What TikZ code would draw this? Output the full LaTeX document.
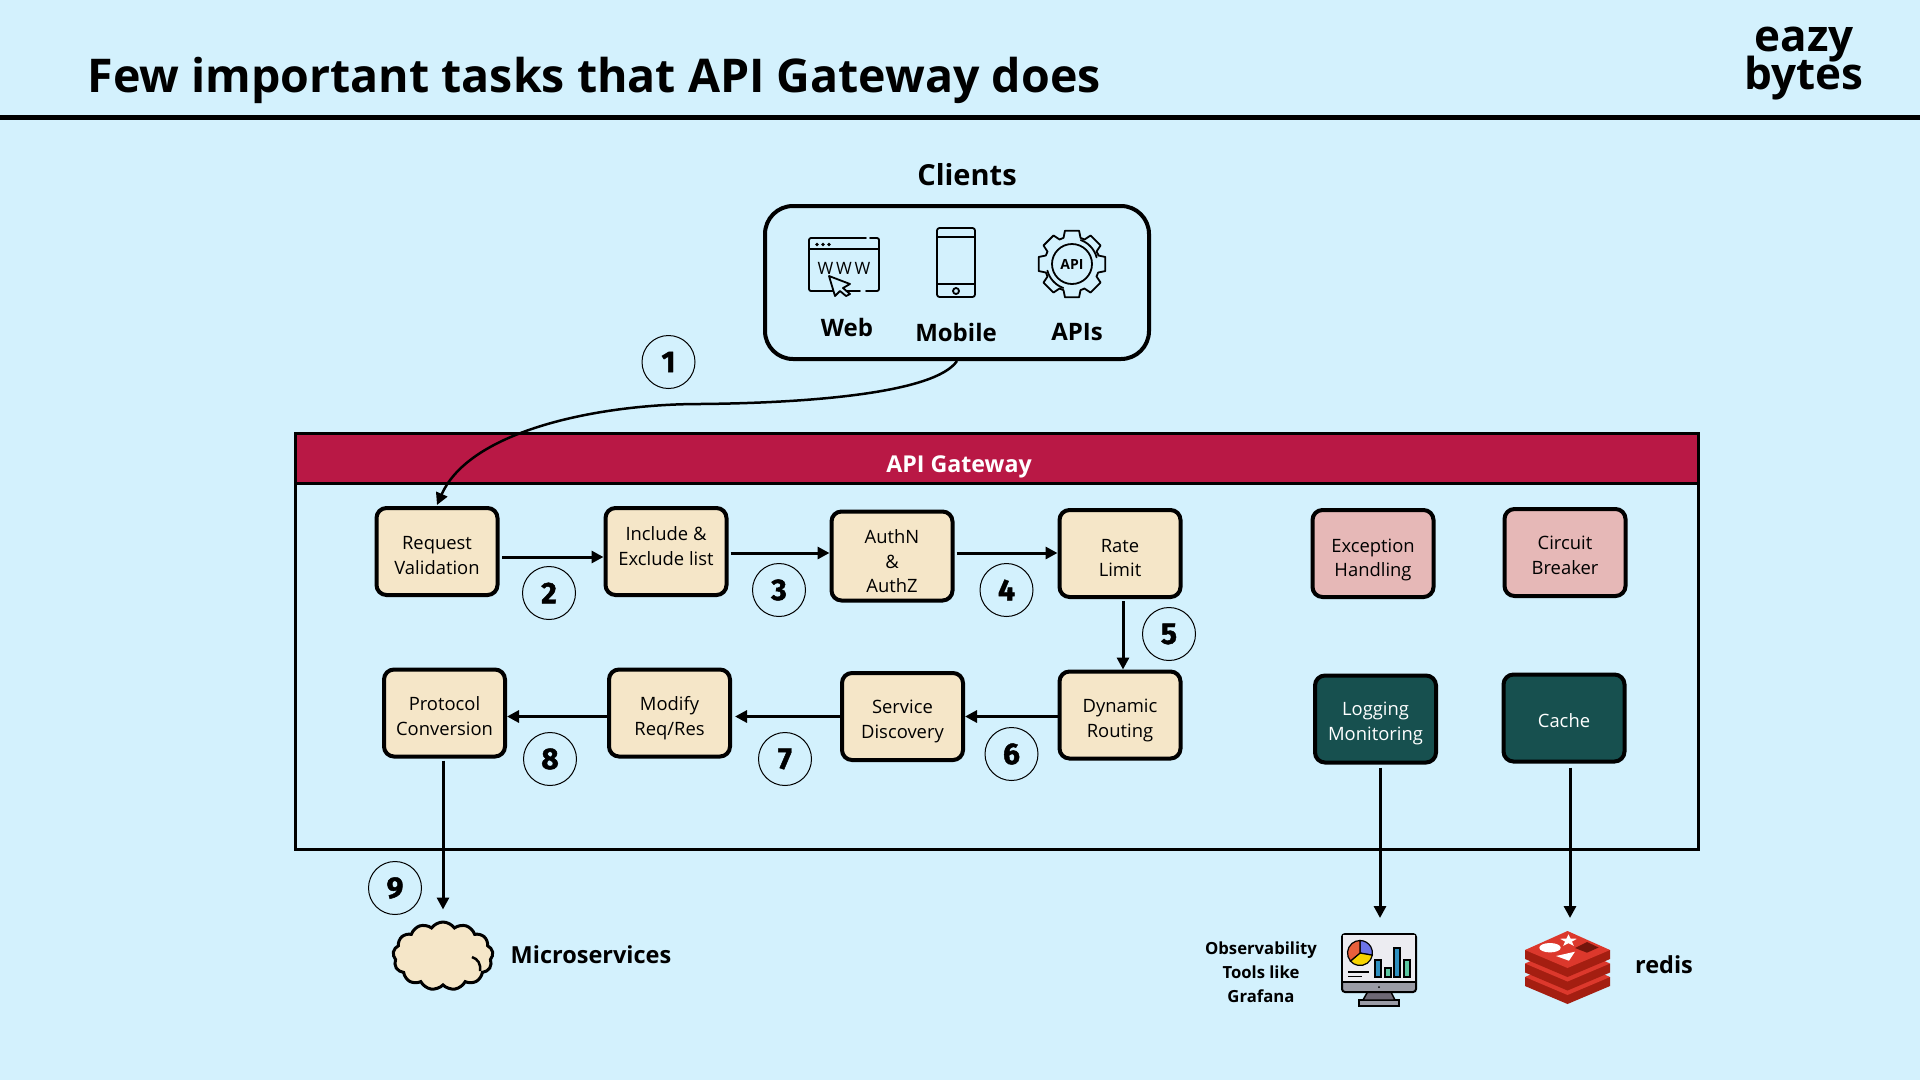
\documentclass[tikz,border=0pt]{standalone}
\usepackage{fontspec}
\setmainfont{Open Sans}
\newfontfamily\stepfont[BoldFeatures={FakeBold=1.5}]{Fira Sans}
\usetikzlibrary{arrows.meta,shapes.symbols}
\definecolor{pagebg}{HTML}{D3F1FD}
\definecolor{boxcream}{HTML}{F5E6C8}
\definecolor{boxpink}{HTML}{E6B8B7}
\definecolor{boxteal}{HTML}{17504F}
\definecolor{bandred}{HTML}{B91845}
\definecolor{redislight}{HTML}{DC382C}
\definecolor{redisdark}{HTML}{A41E11}
\definecolor{screengrey}{HTML}{ECECF1}
\definecolor{monitorgrey}{HTML}{9A9BA5}
\definecolor{standgrey}{HTML}{6D6875}
\definecolor{piered}{HTML}{E8603C}
\definecolor{pieblue}{HTML}{6C74E8}
\definecolor{pieyellow}{HTML}{F7D400}
\definecolor{barblue}{HTML}{2E8FC0}
\definecolor{bargreen}{HTML}{5CC7A2}
\newcommand{\tightlines}{\lineskiplimit=-100pt\relax}
\newcommand{\lift}[1]{\rule{0pt}{#1pt}}

\begin{document}
\begin{tikzpicture}[x=1pt,y=-1pt,
  textdepth/.code={\def\textdepthval{#1}},
  taskbox/.style = {shape=rectangle, rounded corners=10pt, draw,
    line width=4pt, minimum width=121pt, minimum height=87pt, inner sep=0pt,
    align=center, font=\fontsize{18.4}{24.5}\selectfont, textdepth=8,
    execute at end node={\rule[-\textdepthval pt]{0pt}{0pt}}},
  cream/.style = {taskbox, fill=boxcream},
  pink/.style = {taskbox, fill=boxpink},
  teal/.style = {taskbox, fill=boxteal, text=white},
  stepno/.style = {shape=circle, draw, line width=1pt, minimum size=53pt,
    inner sep=0pt, font=\stepfont\bfseries\fontsize{30}{30}\selectfont},
  heading/.style = {font=\bfseries\fontsize{23.5}{30}\selectfont, align=center},
  iconlabel/.style = {font=\bfseries\fontsize{24}{30}\selectfont},
  flow/.style = {line width=3pt, -{Triangle[length=12pt,width=12pt]}},
  icon/.style = {line width=1.8pt, line cap=round, line join=round}]
  \useasboundingbox (0,0) rectangle (1920,1080);
  \fill[pagebg] (0,0) rectangle (1920,1080);

  \node[anchor=base west, font=\bfseries\fontsize{46.5}{50}\selectfont] (title) at (84,92)
    {Few important tasks that API Gateway does};
  \node[font=\bfseries\fontsize{44}{38}\selectfont\tightlines, align=center] (logo) at (1804,63.5) {eazy\\bytes};
  \draw[line width=5pt] (0,117.5) -- (1920,117.5);

  % clients
  \node[heading, font=\bfseries\fontsize{29}{30}\selectfont] (clientstitle) at (967,175) {Clients};
  \node[draw, line width=4pt, rounded corners=28pt, minimum width=384pt, minimum height=153pt] (clients) at (957,282.5) {};
  \node[iconlabel] (web) at (847,327) {Web};
  \node[iconlabel] (mobile) at (956,332) {Mobile};
  \node[iconlabel] (apis) at (1077,332) {APIs};

  % web icon
  \draw[icon, rounded corners=2pt] (866,238) -- (809,238) -- (809,291) -- (860,291);
  \draw[icon, rounded corners=2pt] (870,238) -- (879,238) -- (879,291) -- (866,291);
  \draw[icon] (809,249) -- (879,249);
  \fill (817,244.5) circle[radius=1.8pt] (823,244.5) circle[radius=1.8pt] (829,244.5) circle[radius=1.8pt];
  \node[font=\fontsize{17}{17}\selectfont, inner sep=0pt] (www) at (844,268) {W\,W\,W};
  \draw[icon, fill=pagebg] (829,276) -- (850,284) -- (843,288) -- (850,294) -- (846,296) -- (840,291) -- (835,296) -- cycle;

  % mobile icon
  \draw[icon, rounded corners=2.5pt] (937,228) rectangle (975,297);
  \draw[icon] (937,237) -- (975,237) (937,284) -- (975,284);
  \draw[icon] (956,291) circle[radius=3pt];

  % api icon
  \begin{scope}[shift={(1072,264)}]
    \draw[icon] (-18:28) \foreach \a in {0,45,...,315} { -- (\a-18:27.5) -- (\a-12:34) -- (\a+12:34) -- (\a+18:27.5) } -- cycle;
    \draw[icon] (0,0) circle[radius=20pt];
    \draw[icon] (-70:25.5) arc[start angle=-70,end angle=-15,radius=25.5];
    \draw[icon] (110:25.5) arc[start angle=110,end angle=165,radius=25.5];
    \node[font=\bfseries\fontsize{14}{14}\selectfont, inner sep=0pt] (apitext) at (0,0) {API};
  \end{scope}

  % gateway
  \fill[bandred] (295,433) rectangle (1698,483);
  \draw[line width=3pt] (295,433) rectangle (1698,849.5);
  \draw[line width=3pt] (295,483) -- (1698,483);
  \node[font=\bfseries\fontsize{23.2}{30}\selectfont, text=white] (gateway) at (959,467) {API Gateway};

  \node[cream] (reqval) at (437,551.5) {\lift{29}Request\\Validation};
  \node[cream, textdepth=11] (incl) at (666,551.5) {Include \&\\Exclude list};
  \node[cream] (authn) at (892,556) {\lift{32}AuthN\\\&\\AuthZ};
  \node[cream] (ratelimit) at (1120,553.5) {\lift{29.6}Rate\\Limit};
  \node[pink] (exception) at (1373,553.5) {\lift{29.6}Exception\\Handling};
  \node[pink] (breaker) at (1565,552.5) {\lift{26.8}Circuit\\Breaker};
  \node[cream] (protocol) at (444.5,713) {\lift{28}Protocol\\Conversion};
  \node[cream] (modify) at (669.5,713) {\lift{28}Modify\\Req/Res};
  \node[cream] (discovery) at (902.5,716.5) {\lift{27}Service\\Discovery};
  \node[cream] (routing) at (1120,715) {\lift{27.6}Dynamic\\Routing};
  \node[teal] (logging) at (1375.5,719) {\lift{26.4}Logging\\Monitoring};
  \node[teal] (cache) at (1564,718) {\lift{26.4}Cache};

  % steps
  \node[stepno] (s1) at (668.5,362) {1};
  \node[stepno] (s2) at (549,593) {2};
  \node[stepno] (s3) at (779,590) {3};
  \node[stepno] (s4) at (1006.5,590) {4};
  \node[stepno] (s5) at (1169,634) {5};
  \node[stepno] (s6) at (1011.5,754) {6};
  \node[stepno] (s7) at (785,759) {7};
  \node[stepno] (s8) at (550,759) {8};
  \node[stepno] (s9) at (395,888) {9};

  % bottom row
  \node[shape=cloud, cloud puffs=13, cloud puff arc=110, aspect=1.5, draw, line width=3pt, fill=boxcream,
    minimum width=100pt, minimum height=68pt, inner sep=0pt] (msvc) at (443,956) {};
  \draw[line width=2.5pt] (472,957) .. controls (478,959) and (481,964) .. (480,971);
  \node[heading] (msvclabel) at (591,955) {Microservices};
  \node[font=\bfseries\fontsize{16.7}{24}\selectfont, align=center] (grafanalabel) at (1261,972) {Observability\\Tools like\\Grafana};
  \node[heading] (redislabel) at (1664,965) {redis};
  \coordinate (grafana) at (1380,918);
  \coordinate (redis) at (1570,918);

  % monitor icon
  \draw[line width=1.5pt, fill=monitorgrey] (1359,1000) rectangle (1399,1006);
  \draw[line width=1.5pt, fill=standgrey] (1367.5,992) -- (1391,992) -- (1395,1000) -- (1363,1000) -- cycle;
  \draw[line width=2pt, fill=monitorgrey, rounded corners=3pt] (1342,934) rectangle (1416,992);
  \fill[screengrey] (1343,935) rectangle (1415,982);
  \draw[line width=1.5pt] (1342,982) -- (1416,982);
  \fill (1379,987) circle[radius=1pt];
  \begin{scope}[shift={(1360,953)}]
    \draw[line width=1.2pt, fill=pieblue] (0,0) -- (-90:12.5) arc[start angle=-90,end angle=10,radius=12.5] -- cycle;
    \draw[line width=1.2pt, fill=pieyellow] (0,0) -- (10:12.5) arc[start angle=10,end angle=140,radius=12.5] -- cycle;
    \draw[line width=1.2pt, fill=piered] (0,0) -- (140:12.5) arc[start angle=140,end angle=270,radius=12.5] -- cycle;
  \end{scope}
  \foreach \xa/\ya/\barcol in {1375/960/barblue,1385/968/bargreen,1394/948/barblue,1404/960/bargreen}
    \draw[line width=1.2pt, fill=\barcol] (\xa,\ya) rectangle (\xa+6,977);
  \draw[line width=1.3pt] (1348,972) -- (1369,972) (1348,976.5) -- (1362,976.5);

  % redis icon
  \foreach \dy in {27,13.5,0} {
    \fill[redisdark] (1525,950+\dy) -- (1525,959+\dy) -- (1567.5,977+\dy) -- (1610,959+\dy) -- (1610,950+\dy) -- cycle;
    \fill[redislight] (1525,950+\dy) -- (1567.5,931+\dy) -- (1610,950+\dy) -- (1567.5,968+\dy) -- cycle;
  }
  \fill[white] (1550,947.7) ellipse[x radius=10.7,y radius=4.7];
  \fill[white] (1556,956) -- (1575,951.7) -- (1569,960.7) -- cycle;
  \fill[redisdark!70!black] (1575,948) -- (1587,942) -- (1598.6,947.5) -- (1587,952.7) -- cycle;
  \begin{scope}[shift={(1568.5,940.7)},yscale=.7]
    \fill[white] (-90:9) \foreach \a in {-54,-18,...,234} { -- (\a:{mod(\a+90,72)==0 ? 9 : 3.6}) } -- cycle;
  \end{scope}

  % connectors
  \coordinate (bend) at (700,404);
  \draw[line width=2.5pt, -{Triangle[length=12pt,width=12pt]}] (clients.south) .. controls (935,393) and (810,403) .. (bend) .. controls (600,404) and (470,430) .. ([yshift=1pt]reqval.north);
  \draw[flow] ([xshift=2.5pt,yshift=-5.5pt]reqval.east) -- ([yshift=-5.5pt]incl.west);
  \draw[flow] ([xshift=2pt,yshift=-1.5pt]incl.east) -- ([yshift=3pt]authn.west);
  \draw[flow] ([xshift=2pt,yshift=3pt]authn.east) -- ([yshift=.5pt]ratelimit.west);
  \draw[flow] ([xshift=3pt,yshift=-2pt]ratelimit.south) -- ([xshift=3pt]routing.north);
  \draw[flow] ([yshift=-1.5pt]routing.west) -- (discovery.east);
  \draw[flow] (discovery.west) -- ([xshift=3pt,yshift=-3.5pt]modify.east);
  \draw[flow] ([yshift=-3.5pt]modify.west) -- ([yshift=-3.5pt]protocol.east);
  \draw[flow, shorten >=11pt] ([xshift=-1.5pt,yshift=-2pt]protocol.south) -- (msvc.north);
  \draw[flow] ([xshift=4.5pt,yshift=-3pt]logging.south) -- (grafana);
  \draw[flow] ([xshift=6pt,yshift=-4pt]cache.south) -- (redis);
\end{tikzpicture}
\end{document}
